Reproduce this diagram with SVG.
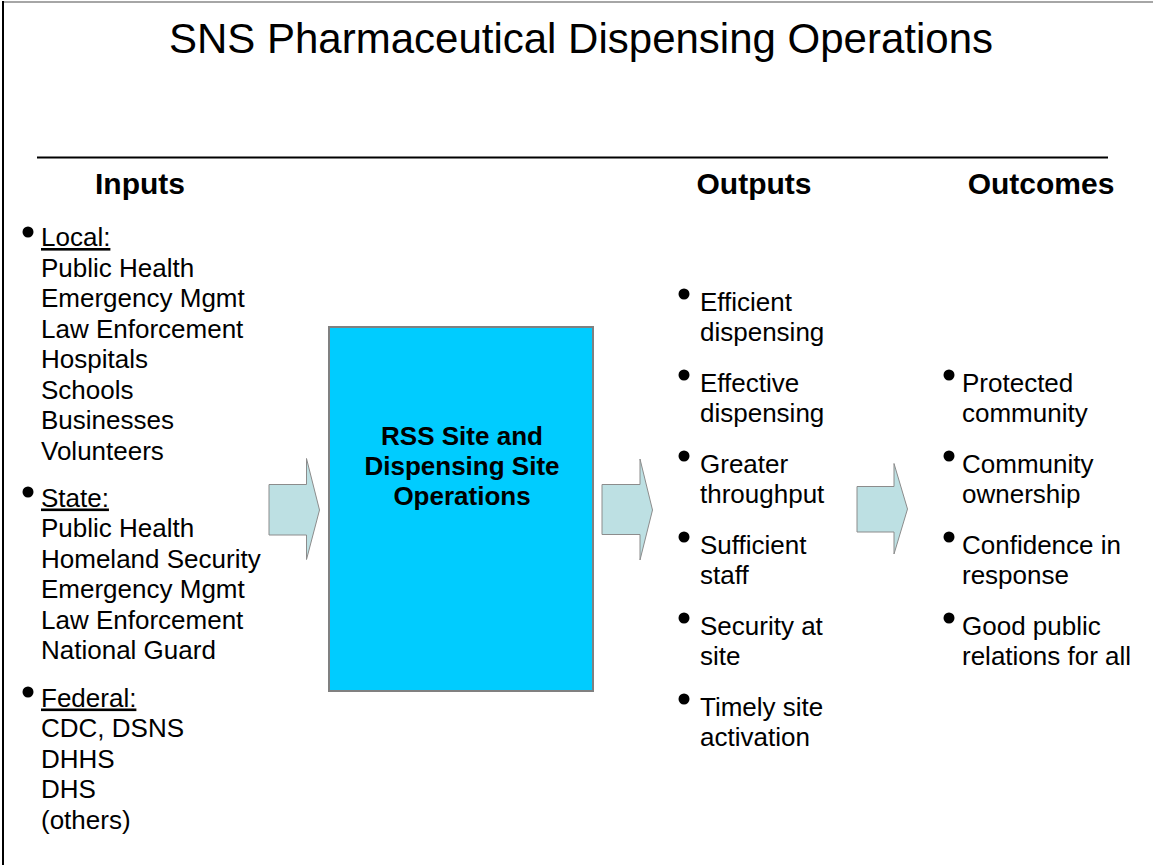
<svg xmlns="http://www.w3.org/2000/svg" width="1153" height="865" viewBox="0 0 1153 865">
<style>
  text { font-family: "Liberation Sans", Arial, sans-serif; fill: #000; }
  .title { font-size: 42px; }
  .head { font-size: 30px; font-weight: bold; text-anchor: middle; }
  .item { font-size: 26px; }
  .ul { text-decoration: underline; }
  .box { font-size: 26px; font-weight: bold; text-anchor: middle; }
  .bullet { fill: #000; }
  .arrow { fill: #BDE0E3; stroke: #8C8C8C; stroke-width: 1; }
</style>
<rect x="0" y="0" width="1153" height="865" fill="#fff"/>
<g id="frame">
  <line x1="3" y1="2" x2="1153" y2="2" stroke="#888" stroke-width="1.5"/>
  <line x1="3" y1="1" x2="3" y2="865" stroke="#000" stroke-width="2"/>
</g>
<g id="title">
  <text class="title" x="581" y="53" text-anchor="middle">SNS Pharmaceutical Dispensing Operations</text>
  <line x1="37" y1="157.5" x2="1108" y2="157.5" stroke="#000" stroke-width="2"/>
</g>
<g id="headings">
  <text class="head" x="140" y="194">Inputs</text>
  <text class="head" x="754" y="194">Outputs</text>
  <text class="head" x="1041" y="194">Outcomes</text>
</g>
<g id="inputs">
  <circle class="bullet" cx="28" cy="232" r="5.5"/>
  <text class="item" x="41"><tspan class="ul" x="41" y="246">Local:</tspan><tspan x="41" y="276.5">Public Health</tspan><tspan x="41" y="307">Emergency Mgmt</tspan><tspan x="41" y="337.5">Law Enforcement</tspan><tspan x="41" y="368">Hospitals</tspan><tspan x="41" y="398.5">Schools</tspan><tspan x="41" y="429">Businesses</tspan><tspan x="41" y="459.5">Volunteers</tspan></text>
  <circle class="bullet" cx="28" cy="492" r="5.5"/>
  <text class="item" x="41"><tspan class="ul" x="41" y="506.5">State:</tspan><tspan x="41" y="537">Public Health</tspan><tspan x="41" y="567.5">Homeland Security</tspan><tspan x="41" y="598">Emergency Mgmt</tspan><tspan x="41" y="628.5">Law Enforcement</tspan><tspan x="41" y="659">National Guard</tspan></text>
  <circle class="bullet" cx="28" cy="692" r="5.5"/>
  <text class="item" x="41"><tspan class="ul" x="41" y="706.5">Federal:</tspan><tspan x="41" y="737">CDC, DSNS</tspan><tspan x="41" y="767.5">DHHS</tspan><tspan x="41" y="798">DHS</tspan><tspan x="41" y="828.5">(others)</tspan></text>
</g>
<g id="process">
  <rect x="329" y="327" width="264" height="364" fill="#00CCFF" stroke="#808080" stroke-width="2"/>
  <text class="box" x="462"><tspan x="462" y="445">RSS Site and</tspan><tspan x="462" y="475">Dispensing Site</tspan><tspan x="462" y="505">Operations</tspan></text>
</g>
<g id="outputs">
  <circle class="bullet" cx="684" cy="294" r="5.5"/>
  <text class="item"><tspan x="700" y="311">Efficient</tspan><tspan x="700" y="341">dispensing</tspan></text>
  <circle class="bullet" cx="684" cy="375" r="5.5"/>
  <text class="item"><tspan x="700" y="392">Effective</tspan><tspan x="700" y="422">dispensing</tspan></text>
  <circle class="bullet" cx="684" cy="456" r="5.5"/>
  <text class="item"><tspan x="700" y="473">Greater</tspan><tspan x="700" y="503">throughput</tspan></text>
  <circle class="bullet" cx="684" cy="537" r="5.5"/>
  <text class="item"><tspan x="700" y="554">Sufficient</tspan><tspan x="700" y="584">staff</tspan></text>
  <circle class="bullet" cx="684" cy="618" r="5.5"/>
  <text class="item"><tspan x="700" y="635">Security at</tspan><tspan x="700" y="665">site</tspan></text>
  <circle class="bullet" cx="684" cy="699" r="5.5"/>
  <text class="item"><tspan x="700" y="716">Timely site</tspan><tspan x="700" y="746">activation</tspan></text>
</g>
<g id="outcomes">
  <circle class="bullet" cx="949" cy="375" r="5.5"/>
  <text class="item"><tspan x="962" y="392">Protected</tspan><tspan x="962" y="422">community</tspan></text>
  <circle class="bullet" cx="949" cy="456" r="5.5"/>
  <text class="item"><tspan x="962" y="473">Community</tspan><tspan x="962" y="503">ownership</tspan></text>
  <circle class="bullet" cx="949" cy="537" r="5.5"/>
  <text class="item"><tspan x="962" y="554">Confidence in</tspan><tspan x="962" y="584">response</tspan></text>
  <circle class="bullet" cx="949" cy="618" r="5.5"/>
  <text class="item"><tspan x="962" y="635">Good public</tspan><tspan x="962" y="665">relations for all</tspan></text>
</g>
<g id="connectors">
  <path class="arrow" d="M269,484.5 H306.5 V458.5 L319.5,510 L306.5,559.5 V535 H269 Z"/>
  <path class="arrow" d="M602,484.5 H640 V459 L652.5,510 L640,560 V534.5 H602 Z"/>
  <path class="arrow" d="M857,486.5 H894 V463.5 L907.5,509 L894,554 V532 H857 Z"/>
</g>
</svg>
